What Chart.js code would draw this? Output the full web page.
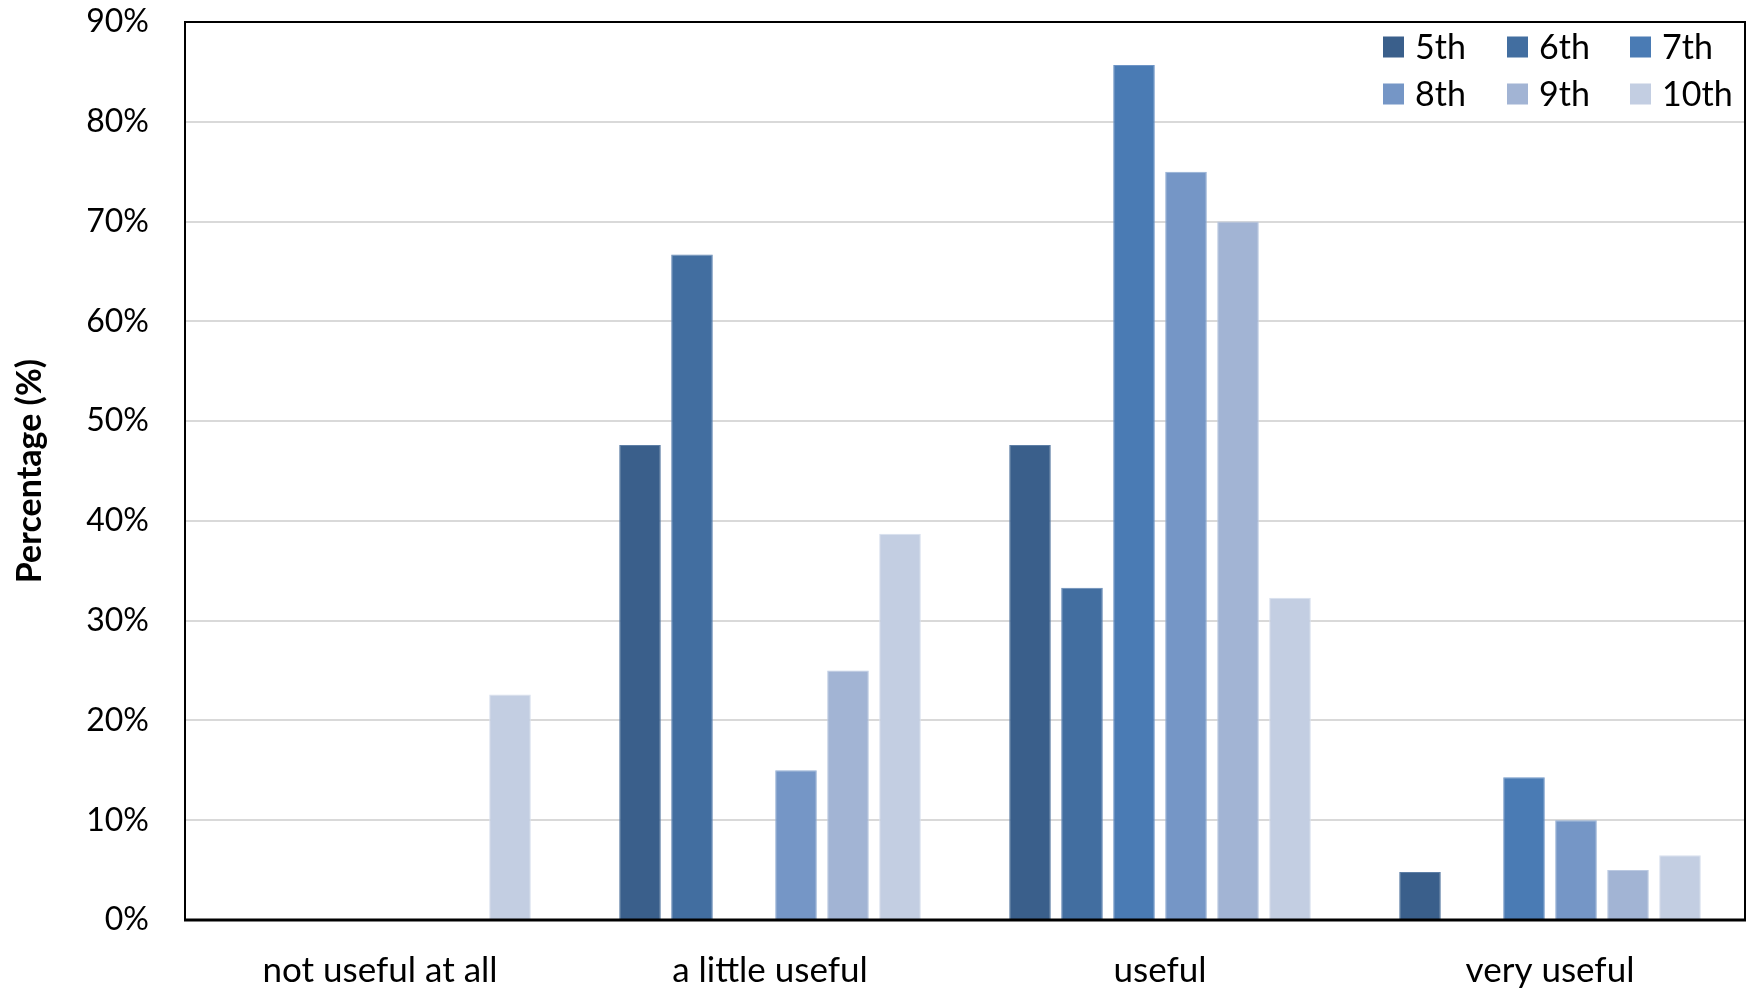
<!DOCTYPE html>
<html>
<head>
<meta charset="utf-8">
<script src="https://cdn.jsdelivr.net/npm/chart.js@4/dist/chart.umd.min.js"></script>
<style>
  html, body { margin: 0; padding: 0; background: #ffffff; }
  #wrap { position: relative; width: 1751px; height: 992px; }
</style>
</head>
<body>
<div id="wrap"><canvas id="c" width="1751" height="992"></canvas></div>
<script>
const categories = ['not useful at all', 'a little useful', 'useful', 'very useful'];
const seriesNames = ['5th', '6th', '7th', '8th', '9th', '10th'];
const grade5 = [0, 47.6, 47.6, 4.8];
const grade6 = [0, 66.7, 33.3, 0];
const grade7 = [0, 0, 85.7, 14.3];
const grade8 = [0, 15.0, 75.0, 10.0];
const grade9 = [0, 25.0, 70.0, 5.0];
const grade10 = [22.6, 38.7, 32.3, 6.5];
const yTicks = [0, 10, 20, 30, 40, 50, 60, 70, 80, 90];

const seriesValues = [grade5, grade6, grade7, grade8, grade9, grade10];
const colors = ['#3A5F8B', '#426EA0', '#4A7BB4', '#7596C6', '#A2B4D4', '#C3CEE2'];
const borders = ['#5E7FA6', '#6689B5', '#6E95C6', '#93AED3', '#BCCAE2', '#D8E0EE'];

const FONT = 'Lato, "Noto Sans", sans-serif';

const framePlugin = {
  id: 'frame',
  afterDatasetsDraw(chart) {
    const a = chart.chartArea, ctx = chart.ctx;
    ctx.save();
    ctx.strokeStyle = '#000000';
    ctx.lineWidth = 2;
    ctx.strokeRect(a.left, a.top, a.right - a.left, a.bottom - a.top);
    ctx.lineWidth = 3;
    ctx.beginPath();
    ctx.moveTo(a.left - 1, a.bottom);
    ctx.lineTo(a.right + 1, a.bottom);
    ctx.stroke();
    ctx.restore();
  }
};

const legendPlugin = {
  id: 'gridLegend',
  afterDraw(chart) {
    const a = chart.chartArea, ctx = chart.ctx;
    const colOffsets = [-362, -238, -115];
    const rowOffsets = [25, 72];
    const box = 21;
    ctx.save();
    ctx.font = '34px ' + FONT;
    ctx.textBaseline = 'middle';
    ctx.textAlign = 'left';
    chart.data.datasets.forEach((ds, i) => {
      const col = i % 3, row = Math.floor(i / 3);
      const x = a.right + colOffsets[col];
      const y = a.top + rowOffsets[row];
      ctx.fillStyle = ds.backgroundColor;
      ctx.fillRect(x, y - box / 2, box, box);
      ctx.fillStyle = '#000000';
      ctx.fillText(ds.label, x + 32, y + 1);
    });
    ctx.restore();
  }
};

new Chart(document.getElementById('c'), {
  type: 'bar',
  data: {
    labels: categories,
    datasets: seriesNames.map((name, i) => ({
      label: name,
      data: seriesValues[i],
      backgroundColor: colors[i],
      borderColor: borders[i],
      borderWidth: 1,
      categoryPercentage: 0.8,
      barPercentage: 0.8
    }))
  },
  options: {
    responsive: false,
    animation: false,
    devicePixelRatio: 1,
    layout: { padding: { top: 22, right: 6, bottom: 0, left: 0 } },
    plugins: {
      legend: { display: false },
      tooltip: { enabled: false }
    },
    scales: {
      x: {
        grid: { display: false, drawTicks: false },
        border: { display: false },
        ticks: { color: '#000000', font: { family: FONT, size: 35 }, padding: 30, maxRotation: 0 },
        afterFit(s) { s.height = 72; s.paddingLeft = 0; s.paddingRight = 0; }
      },
      y: {
        min: 0,
        max: 90,
        afterBuildTicks(s) { s.ticks = yTicks.map(v => ({ value: v })); },
        grid: { color: '#D9D9D9', lineWidth: 2, drawTicks: false },
        border: { display: false },
        ticks: {
          color: '#000000',
          font: { family: FONT, size: 32 },
          padding: 36,
          callback: v => v + '%'
        },
        title: {
          display: true,
          text: 'Percentage (%)',
          color: '#000000',
          font: { family: FONT, size: 34, weight: 'bold' },
          padding: { top: 10, bottom: 0 }
        },
        afterFit(s) { s.width = 185; s.paddingTop = 0; s.paddingBottom = 0; }
      }
    }
  },
  plugins: [framePlugin, legendPlugin]
});
</script>
</body>
</html>
